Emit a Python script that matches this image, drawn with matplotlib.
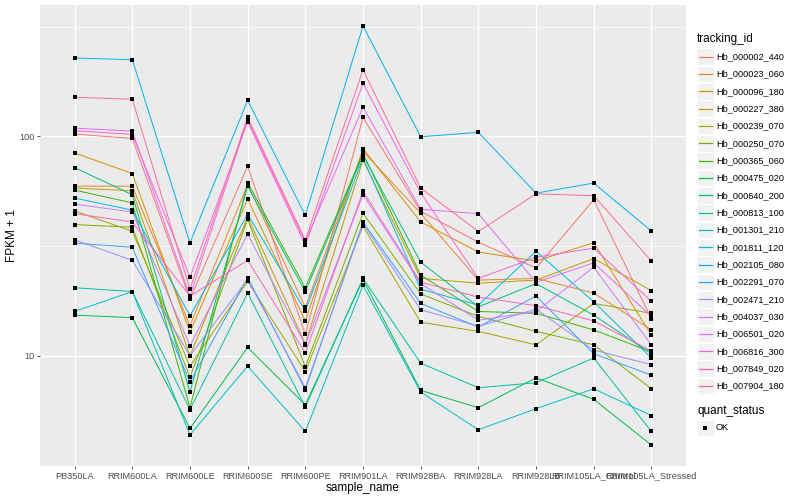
import matplotlib
matplotlib.use("Agg")
import matplotlib.pyplot as plt
import numpy as np
from matplotlib.lines import Line2D
from matplotlib.patches import Rectangle

plt.rcParams['font.family'] = ['Liberation Sans', 'DejaVu Sans']

samples = ['PB350LA', 'RRIM600LA', 'RRIM600LE', 'RRIM600SE', 'RRIM600PE',
           'RRIM901LA', 'RRIM928BA', 'RRIM928LA', 'RRIM928LB',
           'RRIM105LA_Control', 'RRIM105LA_Stressed']

tracking_ids = ['Hb_000002_440', 'Hb_000023_060', 'Hb_000096_180', 'Hb_000227_380',
                'Hb_000239_070', 'Hb_000250_070', 'Hb_000365_060', 'Hb_000475_020',
                'Hb_000640_200', 'Hb_000813_100', 'Hb_001301_210', 'Hb_001811_120',
                'Hb_002105_080', 'Hb_002291_070', 'Hb_002471_210', 'Hb_004037_030',
                'Hb_006501_020', 'Hb_006816_300', 'Hb_007849_020', 'Hb_007904_180']

# ggplot default hue palette for 20 levels
colours = ['#F8766D', '#EA8331', '#D89000', '#C09B00', '#A3A500', '#7CAE00',
           '#39B600', '#00BB4E', '#00BF7D', '#00C1A3', '#00BFC4', '#00BAE0',
           '#00B0F6', '#35A2FF', '#9590FF', '#C77CFF', '#E76BF3', '#FA62DB',
           '#FF62BC', '#FF6C91']

# FPKM + 1, one row per tracking_id, one column per sample
fpkm = [
    [102.4, 97.9, 18.1, 73.1, 12.5, 122.0, 45.5, 32.9, 25.1, 51.4, 14.7],
    [59.3, 59.3, 13.7, 60.3, 16.6, 85.5, 44.6, 22.1, 22.5, 19.3, 13.1],
    [84.0, 67.7, 12.8, 51.8, 14.4, 87.8, 40.7, 29.7, 27.0, 32.7, 12.4],
    [58.1, 56.5, 10.0, 42.9, 11.3, 78.1, 22.5, 21.4, 22.1, 27.7, 19.8],
    [45.7, 36.9, 8.95, 21.8, 8.46, 39.0, 14.2, 12.9, 11.2, 17.3, 15.6],
    [39.6, 38.5, 7.95, 41.8, 8.89, 44.6, 19.1, 15.1, 12.9, 11.2, 7.06],
    [56.9, 49.7, 5.79, 61.4, 20.4, 83.7, 23.3, 15.9, 15.6, 13.1, 10.4],
    [15.3, 14.9, 4.66, 10.9, 5.96, 22.2, 6.94, 5.79, 7.92, 6.32, 3.91],
    [72.0, 54.2, 6.82, 59.3, 19.6, 82.0, 26.7, 16.7, 21.3, 15.3, 10.2],
    [20.4, 19.6, 5.67, 19.3, 5.83, 22.5, 9.24, 7.14, 7.52, 9.76, 4.51],
    [15.9, 19.6, 4.35, 8.95, 4.51, 20.9, 6.82, 4.59, 5.73, 7.06, 5.33],
    [52.3, 46.1, 15.2, 44.1, 16.0, 79.7, 20.1, 17.0, 29.9, 17.6, 9.76],
    [227.8, 223.6, 32.6, 146.1, 43.6, 318.8, 99.6, 104.3, 55.1, 61.2, 37.0],
    [32.6, 31.2, 7.57, 22.7, 6.99, 40.7, 17.3, 13.5, 18.7, 10.2, 8.15],
    [33.7, 27.2, 10.0, 22.3, 7.14, 40.0, 16.2, 13.6, 16.3, 10.6, 9.10],
    [49.1, 45.2, 11.1, 35.8, 11.2, 54.3, 21.3, 14.5, 15.9, 25.3, 11.2],
    [109.0, 105.7, 18.7, 119.2, 33.1, 135.8, 46.5, 44.4, 21.6, 26.5, 15.1],
    [106.2, 102.1, 22.8, 116.7, 31.9, 174.5, 55.3, 22.5, 28.1, 30.9, 17.7],
    [44.4, 40.7, 18.7, 27.2, 10.3, 56.1, 21.6, 18.5, 16.9, 14.4, 10.5],
    [150.8, 147.6, 20.1, 122.3, 33.6, 201.3, 58.1, 36.8, 54.7, 53.6, 27.0],
]

W, H = 800, 500
fig = plt.figure(figsize=(8, 5), dpi=100)
ax = fig.add_axes([40 / W, 1 - 466 / H, 646 / W, 461 / H])
ax.set_facecolor('#EBEBEB')

x = np.arange(len(samples))
for vals, col in zip(fpkm, colours):
    ax.plot(x, vals, color=col, lw=0.7, zorder=2)
for vals in fpkm:
    ax.plot(x, vals, ls='none', marker='s', ms=2.2, mew=0, color='black', zorder=3)

ax.set_yscale('log')
allv = np.log10(np.array(fpkm))
lo, hi = allv.min(), allv.max()
pad = 0.05 * (hi - lo)
ax.set_ylim(10 ** (lo - pad), 10 ** (hi + pad))
ax.set_xlim(-0.6, len(samples) - 0.4)

ax.set_yticks([10, 100])
ax.set_yticklabels(['10', '100'])
ax.set_yticks([10 ** 1.5, 10 ** 2.5], minor=True)
ax.yaxis.set_minor_formatter(matplotlib.ticker.NullFormatter())
ax.set_xticks(x)
ax.set_xticklabels(samples)

ax.grid(True, which='major', color='white', lw=1.0, zorder=0)
ax.grid(True, which='minor', axis='y', color='white', lw=0.5, zorder=0)
ax.set_axisbelow(True)
for s in ax.spines.values():
    s.set_visible(False)
ax.tick_params(which='major', length=2.5, width=0.6, color='#333333',
               labelsize=6.6, labelcolor='#4D4D4D', pad=1.5)
ax.tick_params(which='minor', length=0)

ax.set_xlabel('sample_name', fontsize=8.5, labelpad=1)
ax.set_ylabel('FPKM + 1', fontsize=8.5, labelpad=1)

# legends drawn ggplot style at the right
def fx(px):
    return px / W

def fy(py):
    return 1 - py / H

fig.text(fx(697), fy(39), 'tracking_id', fontsize=8.5, va='center', ha='left')
y0, step = 56.7, 17.33
for i, (name, col) in enumerate(zip(tracking_ids, colours)):
    yc = y0 + i * step
    fig.add_artist(Rectangle((fx(697), fy(yc + 8.2)), 16.5 / W, 16.5 / H,
                             transform=fig.transFigure, facecolor='#F2F2F2',
                             edgecolor='white', lw=0.8))
    fig.add_artist(Line2D([fx(699), fx(712)], [fy(yc), fy(yc)],
                          transform=fig.transFigure, color=col, lw=0.9))
    fig.text(fx(716), fy(yc), name, fontsize=6.6, va='center', ha='left')

fig.text(fx(697), fy(411), 'quant_status', fontsize=8.5, va='center', ha='left')
yc = 428
fig.add_artist(Rectangle((fx(697), fy(yc + 8.2)), 16.5 / W, 16.5 / H,
                         transform=fig.transFigure, facecolor='#F2F2F2',
                         edgecolor='white', lw=0.8))
fig.add_artist(Line2D([fx(705.2)], [fy(yc)], transform=fig.transFigure,
                      ls='none', marker='s', ms=2.2, mew=0, color='black'))
fig.text(fx(716), fy(yc), 'OK', fontsize=6.6, va='center', ha='left')

fig.savefig('out.png', dpi=100)
